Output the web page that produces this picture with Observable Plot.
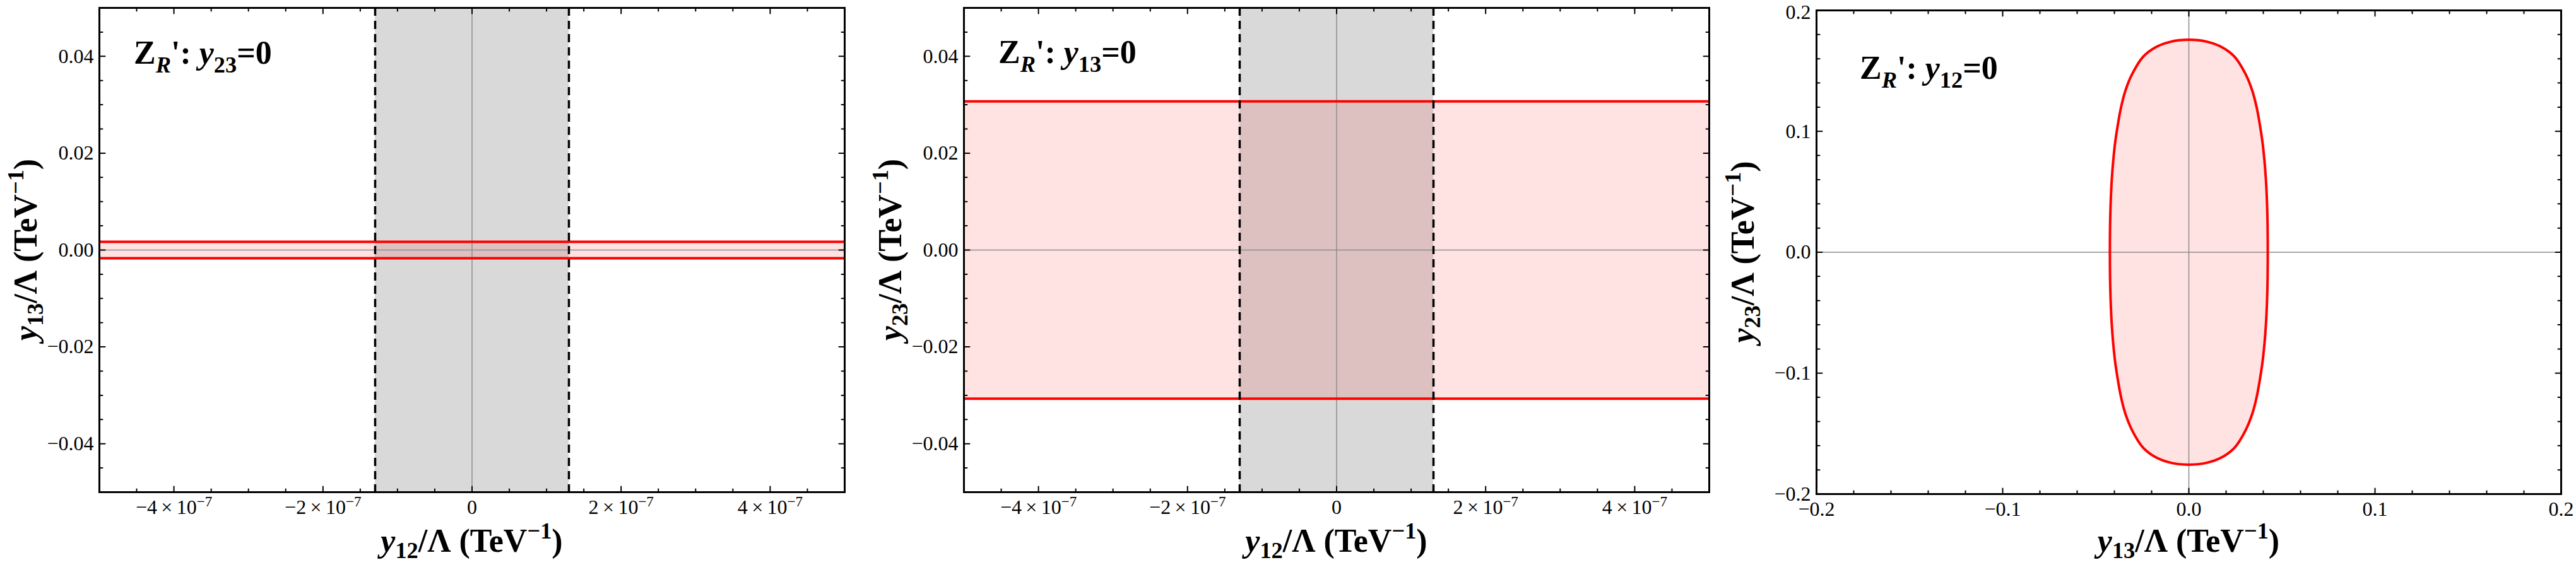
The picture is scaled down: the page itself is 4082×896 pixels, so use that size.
<!DOCTYPE html>
<html>
<head>
<meta charset="utf-8">
<script src="https://cdn.jsdelivr.net/npm/d3@7"></script>
<script src="https://cdn.jsdelivr.net/npm/@observablehq/plot@0.6"></script>
<style>
  body { margin: 0; background: #fff; }
  #wrap { position: relative; width: 4082px; height: 896px; overflow: hidden; background: #fff; }
  .panel { position: absolute; top: 0; }
</style>
</head>
<body>
<div id="wrap"></div>
<script>
// ---------------- data ----------------
const xDomain12 = [-5e-7, 5e-7];
const xMajor12 = [-4e-7, -2e-7, 0, 2e-7, 4e-7];
const xLabelBase12 = ["−4\u2009×\u200910", "−2\u2009×\u200910", "0", "2\u2009×\u200910", "4\u2009×\u200910"];
const xLabelExp12 = ["−7", "−7", "", "−7", "−7"];
const yDomain12 = [-0.05, 0.05];
const yMajor12 = [-0.04, -0.02, 0, 0.02, 0.04];
const yLabels12 = ["−0.04", "−0.02", "0.00", "0.02", "0.04"];
const domain3 = [-0.2, 0.2];
const major3 = [-0.2, -0.1, 0, 0.1, 0.2];
const labels3 = ["−0.2", "−0.1", "0.0", "0.1", "0.2"];
const noExp3 = ["", "", "", "", ""];

const greyBandY12 = [-1.3e-7, 1.3e-7];
const redBandP1 = [-0.0017, 0.0017];
const redBandP2 = [-0.0307, 0.0307];
const contourY23 = [0.1757, 0.1740, 0.1694, 0.1616, 0.1475, 0.1340, 0.1200, 0.1040, 0.0880, 0.0600, 0.0300, 0];
const contourHalfY13 = [0, 0.0100, 0.0180, 0.0246, 0.0304, 0.0340, 0.0364, 0.0383, 0.0398, 0.0414, 0.0422, 0.0424];

const panelLabels = [
  [{t: "Z"}, {t: "R", sub: true, it: true}, {t: "'"}, {t: ": "}, {t: "y", it: true}, {t: "23", sub: true}, {t: "=0"}],
  [{t: "Z"}, {t: "R", sub: true, it: true}, {t: "'"}, {t: ": "}, {t: "y", it: true}, {t: "13", sub: true}, {t: "=0"}],
  [{t: "Z"}, {t: "R", sub: true, it: true}, {t: "'"}, {t: ": "}, {t: "y", it: true}, {t: "12", sub: true}, {t: "=0"}]
];
function axisTitle(idx) {
  return [{t: "y", it: true}, {t: idx, sub: true}, {t: "/Λ ("}, {t: "TeV"}, {t: "−1", sup: true}, {t: ")"}];
}

// ---------------- helpers ----------------
const FONT = "'Liberation Serif', 'Times New Roman', 'DejaVu Serif', serif";
const tickShape = {draw(ctx, l) { ctx.moveTo(0, 0); ctx.lineTo(0, -l); }};

function minorTicks(domain, step, majorStep) {
  const out = [];
  const n = Math.round((domain[1] - domain[0]) / step);
  for (let i = 1; i < n; i++) {
    const v = domain[0] + i * step;
    const r = v / majorStep;
    if (Math.abs(r - Math.round(r)) > 1e-6) out.push(v);
  }
  return out;
}

function frameTicks(xMaj, xMin, yMaj, yMin, xD, yD) {
  const marks = [];
  const common = {anchor: "start", shape: tickShape, stroke: "black", strokeWidth: 2};
  for (const [vals, len] of [[xMaj, 9], [xMin, 5]]) {
    marks.push(Plot.vector(vals, {...common, x: d => d, y: yD[0], length: len, rotate: 0}));
    marks.push(Plot.vector(vals, {...common, x: d => d, y: yD[1], length: len, rotate: 180}));
  }
  for (const [vals, len] of [[yMaj, 9], [yMin, 5]]) {
    marks.push(Plot.vector(vals, {...common, y: d => d, x: xD[0], length: len, rotate: 90}));
    marks.push(Plot.vector(vals, {...common, y: d => d, x: xD[1], length: len, rotate: -90}));
  }
  return marks;
}

function rich(svg, x, y, parts, size, {anchor = "start", rotate = 0, subShift = 0.26} = {}) {
  const t = d3.select(svg).append("text")
    .attr("transform", `translate(${x},${y}) rotate(${rotate})`)
    .style("text-anchor", anchor)
    .style("font-family", FONT)
    .style("font-weight", "bold")
    .style("font-size", size + "px")
    .style("fill", "black");
  let shift = 0;
  for (const p of parts) {
    const s = p.sub ? size * subShift : p.sup ? -size * 0.40 : 0;
    const ts = t.append("tspan").text(p.t).attr("dy", s - shift);
    if (p.sub || p.sup) ts.style("font-size", (size * 0.7) + "px");
    if (p.it) ts.style("font-style", "italic");
    shift = s;
  }
}

function makePanel(cfg) {
  const {left, width, mt, mb, ml, mr, xD, yD, xMaj, xLab, xExp, xMin, yMaj, yLab, yMin, marks, label, labelPos, xTitle, yTitle, topLabelNudge = 0} = cfg;
  const plot = Plot.plot({
    width, height: 896,
    marginLeft: ml, marginRight: mr, marginTop: mt, marginBottom: mb,
    x: {domain: xD},
    y: {domain: yD},
    style: {fontFamily: FONT, fontSize: "32px", background: "white", color: "black"},
    marks: [
      ...marks,
      Plot.frame({stroke: "black", strokeWidth: 3}),
      ...frameTicks(xMaj, xMin, yMaj, yMin, xD, yD),
      Plot.axisX(xMaj, {anchor: "bottom", tickSize: 0, tickPadding: 12, fontSize: 32, label: null,
        tickFormat: d => xLab[xMaj.indexOf(d)]}),
      Plot.axisY(yMaj, {anchor: "left", tickSize: 0, tickPadding: 9, fontSize: 32, label: null,
        tickFormat: d => yLab[yMaj.indexOf(d)]})
    ]
  });
  plot.classList.add("panel");
  plot.style.left = left + "px";
  // exponents of the x tick labels as raised text
  d3.select(plot).selectAll('g[aria-label="x-axis tick label"] text').each(function(d, i) {
    const e = xExp[i];
    if (e) d3.select(this).append("tspan").text(e).attr("dy", -12).style("font-size", "23px");
  });
  if (topLabelNudge) {
    const ys = d3.select(plot).selectAll('g[aria-label="y-axis tick label"] text').nodes();
    const top = ys[ys.length - 1];
    if (top) top.setAttribute("transform", (top.getAttribute("transform") || "") + ` translate(0,${topLabelNudge})`);
  }
  const innerW = width - ml - mr;
  const innerH = 896 - mt - mb;
  rich(plot, ml + labelPos[0], labelPos[1], label, 52);
  rich(plot, ml + innerW / 2, 875, xTitle, 52, {anchor: "middle", subShift: 0.2});
  rich(plot, ml - 99, mt + innerH / 2, yTitle, 52, {anchor: "middle", rotate: -90, subShift: 0.2});
  document.getElementById("wrap").appendChild(plot);
  return plot;
}

const xMinor12 = minorTicks(xDomain12, 0.5e-7, 2e-7);
const yMinor12 = minorTicks(yDomain12, 0.005, 0.02);
const minor3 = minorTicks(domain3, 0.02, 0.1);

function bandMarks(redBand) {
  return [
    Plot.rect([greyBandY12], {x1: d => d[0], x2: d => d[1], fill: "#d9d9d9"}),
    Plot.rect([redBand], {y1: d => d[0], y2: d => d[1], fill: "red", fillOpacity: 0.11}),
    Plot.ruleX([0], {stroke: "#8c8c8c", strokeWidth: 1.5}),
    Plot.ruleY([0], {stroke: "#8c8c8c", strokeWidth: 1.5}),
    Plot.ruleY(redBand, {stroke: "#ff0000", strokeWidth: 4}),
    Plot.ruleX(greyBandY12, {stroke: "black", strokeWidth: 3.5, strokeDasharray: "13,8"})
  ];
}

makePanel({
  left: 0, width: 1358, ml: 157, mr: 20, mt: 12, mb: 116,
  xD: xDomain12, yD: yDomain12, xMaj: xMajor12, xLab: xLabelBase12, xExp: xLabelExp12, xMin: xMinor12,
  yMaj: yMajor12, yLab: yLabels12, yMin: yMinor12,
  marks: bandMarks(redBandP1),
  label: panelLabels[0], labelPos: [55, 101],
  xTitle: axisTitle("12"), yTitle: axisTitle("13")
});

makePanel({
  left: 1370, width: 1358, ml: 157, mr: 20, mt: 12, mb: 116,
  xD: xDomain12, yD: yDomain12, xMaj: xMajor12, xLab: xLabelBase12, xExp: xLabelExp12, xMin: xMinor12,
  yMaj: yMajor12, yLab: yLabels12, yMin: yMinor12,
  marks: bandMarks(redBandP2),
  label: panelLabels[1], labelPos: [55, 100],
  xTitle: axisTitle("12"), yTitle: axisTitle("23")
});

const areaRows = [];
for (let i = 0; i < contourY23.length; i++) areaRows.push({y: -contourY23[i], hx: contourHalfY13[i]});
for (let i = contourY23.length - 2; i >= 0; i--) areaRows.push({y: contourY23[i], hx: contourHalfY13[i]});
const loop = [];
for (let i = 0; i < contourY23.length; i++) loop.push({x: contourHalfY13[i], y: contourY23[i]});
for (let i = contourY23.length - 2; i >= 0; i--) loop.push({x: contourHalfY13[i], y: -contourY23[i]});
for (let i = 1; i < contourY23.length; i++) loop.push({x: -contourHalfY13[i], y: -contourY23[i]});
for (let i = contourY23.length - 2; i >= 1; i--) loop.push({x: -contourHalfY13[i], y: contourY23[i]});

makePanel({
  left: 2721, width: 1361, ml: 157, mr: 24, mt: 16, mb: 113,
  xD: domain3, yD: domain3, xMaj: major3, xLab: labels3, xExp: noExp3, xMin: minor3,
  yMaj: major3, yLab: labels3, yMin: minor3, topLabelNudge: 3,
  marks: [
    Plot.areaX(areaRows, {y: "y", x1: d => -d.hx, x2: "hx", fill: "red", fillOpacity: 0.11, curve: "catmull-rom"}),
    Plot.ruleX([0], {stroke: "#8c8c8c", strokeWidth: 1.5}),
    Plot.ruleY([0], {stroke: "#8c8c8c", strokeWidth: 1.5}),
    Plot.line(loop, {x: "x", y: "y", stroke: "#ff0000", strokeWidth: 4, curve: "catmull-rom-closed"})
  ],
  label: panelLabels[2], labelPos: [69, 125],
  xTitle: axisTitle("13"), yTitle: axisTitle("23")
});
</script>
</body>
</html>
